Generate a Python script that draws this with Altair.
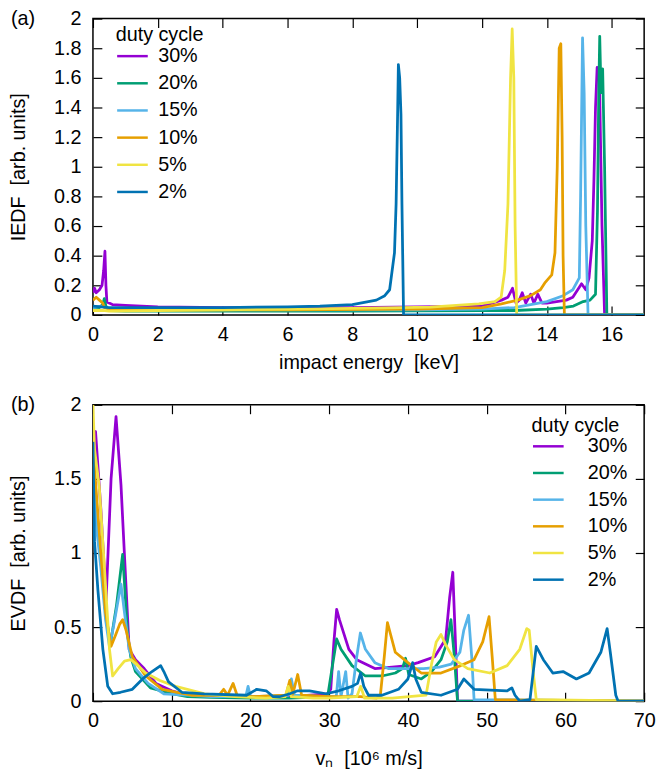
import altair as alt
import pandas as pd

# ---------------- data ----------------
LABELS = ["30%", "20%", "15%", "10%", "5%", "2%"]
COLORS = ["#9400d3", "#009e73", "#56b4e9", "#e69f00", "#f0e442", "#0072b2"]

# panel (a): IEDF vs impact energy [keV]
E30 = [0.0, 0.05, 0.1, 0.2, 0.28, 0.33, 0.37, 0.40, 0.43, 0.6, 1.0, 2.0, 4.0, 6.0, 8.0, 10.0, 12.0, 12.3, 12.6, 12.8, 12.94, 13.05, 13.15, 13.24, 13.35, 13.5, 13.6, 13.72, 13.85, 14.0, 14.3, 14.6, 14.8, 15.07, 15.2, 15.3, 15.4, 15.45, 15.5, 15.55, 15.62, 15.7, 15.78, 17.0]
I30 = [0.15, 0.18, 0.15, 0.17, 0.2, 0.3, 0.43, 0.2, 0.087, 0.07, 0.065, 0.055, 0.05, 0.05, 0.05, 0.055, 0.06, 0.08, 0.1, 0.12, 0.18, 0.08, 0.1, 0.15, 0.08, 0.14, 0.08, 0.14, 0.08, 0.08, 0.09, 0.1, 0.12, 0.21, 0.17, 0.25, 0.5, 0.9, 1.4, 1.67, 1.6, 0.6, 0.0, 0.0]
E20 = [0.0, 0.2, 0.3, 0.35, 0.4, 0.5, 1.0, 4.0, 8.0, 12.0, 13.0, 14.0, 14.5, 14.82, 15.12, 15.33, 15.5, 15.56, 15.6, 15.63, 15.67, 15.72, 15.78, 15.85, 17.0]
I20 = [0.05, 0.05, 0.07, 0.11, 0.06, 0.03, 0.025, 0.025, 0.025, 0.03, 0.03, 0.04, 0.05, 0.06, 0.09, 0.1, 0.14, 0.7, 1.5, 1.88, 1.5, 1.66, 1.0, 0.0, 0.0]
E15 = [0.0, 0.3, 0.5, 2.0, 6.0, 10.0, 12.0, 13.0, 13.5, 14.0, 14.5, 14.8, 15.0, 15.04, 15.1, 15.15, 15.2, 15.27, 17.0]
I15 = [0.05, 0.06, 0.04, 0.035, 0.035, 0.035, 0.04, 0.05, 0.07, 0.09, 0.13, 0.17, 0.25, 0.8, 1.87, 1.5, 0.6, 0.0, 0.0]
E10 = [0.0, 0.1, 0.2, 0.3, 0.35, 0.5, 2.0, 6.0, 10.0, 12.0, 12.6, 13.1, 13.5, 13.8, 13.95, 14.15, 14.25, 14.32, 14.38, 14.43, 14.47, 14.5, 14.54, 17.0]
I10 = [0.1, 0.12, 0.1, 0.08, 0.05, 0.04, 0.035, 0.035, 0.04, 0.05, 0.075, 0.1, 0.13, 0.17, 0.22, 0.27, 0.42, 1.0, 1.8, 1.83, 1.2, 0.4, 0.0, 0.0]
E5 = [0.0, 0.3, 0.5, 2.0, 4.0, 6.0, 8.0, 9.5, 10.4, 11.9, 12.4, 12.59, 12.7, 12.8, 12.88, 12.93, 12.98, 13.02, 13.07, 17.0]
I5 = [0.03, 0.03, 0.025, 0.03, 0.035, 0.04, 0.045, 0.05, 0.053, 0.075, 0.09, 0.12, 0.3, 0.75, 1.6, 1.93, 1.6, 0.6, 0.0, 0.0]
E2 = [0.0, 0.5, 2.0, 4.0, 6.0, 7.0, 8.0, 8.74, 9.0, 9.15, 9.3, 9.35, 9.4, 9.42, 9.46, 9.5, 9.53, 9.58, 17.0]
I2 = [0.06, 0.05, 0.05, 0.05, 0.055, 0.06, 0.07, 0.1, 0.13, 0.17, 0.42, 0.75, 1.4, 1.69, 1.6, 1.35, 0.75, 0.0, 0.0]

# panel (b): EVDF vs v_n [10^6 m/s]
V30 = [0.0, 0.33, 1.0, 1.67, 2.3, 2.93, 3.56, 3.97, 4.6, 5.4, 6.5, 8.0, 10.0, 12.0, 15.0, 20.0, 25.0, 29.8, 30.2, 30.6, 30.95, 31.3, 32.5, 33.5, 35.8, 38.0, 40.0, 41.3, 43.4, 44.8, 45.3, 45.7, 46.0, 46.3, 70.0]
F30 = [1.8, 1.82, 1.3, 0.68, 1.5, 1.92, 1.46, 1.02, 0.35, 0.28, 0.22, 0.12, 0.07, 0.04, 0.03, 0.03, 0.03, 0.05, 0.08, 0.4, 0.62, 0.55, 0.35, 0.28, 0.22, 0.23, 0.24, 0.26, 0.3, 0.42, 0.7, 0.87, 0.45, 0.0, 0.0]
V20 = [0.0, 0.5, 1.0, 1.6, 2.2, 3.0, 3.77, 4.0, 4.4, 4.8, 5.4, 7.3, 10.0, 12.0, 15.0, 20.0, 25.0, 29.8, 30.3, 30.95, 31.5, 32.9, 34.6, 36.7, 38.4, 39.3, 39.7, 40.1, 41.7, 43.0, 44.2, 45.0, 45.46, 45.9, 46.3, 70.0]
F20 = [1.6, 1.2, 0.95, 0.6, 0.38, 0.65, 0.99, 0.8, 0.45, 0.3, 0.2, 0.09, 0.05, 0.03, 0.025, 0.02, 0.02, 0.03, 0.2, 0.42, 0.35, 0.24, 0.17, 0.17, 0.19, 0.22, 0.29, 0.18, 0.15, 0.2, 0.28, 0.4, 0.55, 0.3, 0.0, 0.0]
V15 = [0.0, 0.5, 1.0, 1.6, 2.09, 2.6, 3.1, 3.56, 4.0, 4.6, 5.4, 7.0, 9.0, 12.0, 15.0, 19.4, 19.7, 20.0, 24.8, 25.2, 25.6, 29.5, 30.9, 31.2, 31.5, 32.1, 32.4, 32.9, 33.5, 33.96, 34.6, 35.8, 37.5, 39.2, 42.0, 44.0, 45.5, 46.6, 47.1, 47.7, 48.1, 48.4, 70.0]
F15 = [1.6, 1.15, 0.9, 0.55, 0.37, 0.5, 0.65, 0.79, 0.6, 0.35, 0.22, 0.12, 0.05, 0.04, 0.03, 0.03, 0.1, 0.03, 0.04, 0.15, 0.04, 0.03, 0.03, 0.2, 0.03, 0.2, 0.02, 0.05, 0.3, 0.46, 0.35, 0.26, 0.22, 0.22, 0.22, 0.23, 0.25, 0.33, 0.48, 0.58, 0.3, 0.01, 0.0]
V10 = [0.0, 0.3, 1.0, 1.6, 2.3, 2.9, 3.4, 3.77, 4.2, 5.0, 6.7, 8.8, 12.5, 16.0, 16.6, 17.1, 17.8, 18.3, 20.0, 24.5, 25.0, 25.4, 26.0, 26.5, 30.0, 34.0, 36.0, 36.5, 37.0, 37.4, 37.8, 38.4, 40.0, 41.7, 44.2, 46.7, 48.4, 49.5, 50.3, 50.7, 51.1, 70.0]
F10 = [1.75, 1.5, 1.0, 0.6, 0.37, 0.45, 0.52, 0.55, 0.48, 0.3, 0.17, 0.08, 0.04, 0.04, 0.08, 0.04, 0.12, 0.04, 0.03, 0.04, 0.14, 0.05, 0.18, 0.04, 0.03, 0.03, 0.02, 0.04, 0.3, 0.53, 0.45, 0.33, 0.26, 0.19, 0.19, 0.24, 0.28, 0.4, 0.57, 0.3, 0.01, 0.0]
V5 = [0.0, 0.2, 0.8, 1.46, 2.1, 2.5, 3.2, 4.0, 4.8, 5.5, 6.7, 8.5, 10.5, 14.2, 18.0, 22.0, 24.4, 24.8, 25.2, 28.0, 30.0, 33.5, 34.0, 34.5, 38.0, 42.3, 43.0, 43.6, 44.2, 44.8, 45.9, 47.6, 50.4, 52.6, 54.2, 55.1, 55.4, 55.9, 56.3, 70.0]
F5 = [2.0, 1.7, 1.45, 0.9, 0.35, 0.17, 0.22, 0.27, 0.28, 0.25, 0.19, 0.14, 0.1, 0.05, 0.03, 0.02, 0.03, 0.1, 0.03, 0.02, 0.02, 0.03, 0.1, 0.02, 0.02, 0.04, 0.25, 0.4, 0.45, 0.38, 0.28, 0.22, 0.19, 0.24, 0.35, 0.49, 0.48, 0.2, 0.01, 0.0]
V2 = [0.0, 0.2, 0.63, 1.26, 1.88, 2.5, 3.5, 5.0, 6.3, 7.5, 8.6, 9.0, 9.6, 11.3, 14.1, 19.5, 20.8, 22.0, 22.9, 23.7, 25.0, 26.0, 27.5, 29.6, 31.2, 32.9, 33.6, 34.0, 34.4, 35.0, 36.7, 38.8, 40.0, 40.6, 41.0, 41.7, 44.2, 46.3, 47.1, 48.4, 52.6, 53.2, 53.6, 54.2, 55.5, 56.3, 57.2, 58.4, 59.7, 61.4, 63.0, 64.5, 65.3, 65.7, 66.4, 66.7, 70.0]
F2 = [1.75, 1.08, 0.75, 0.35, 0.1, 0.05, 0.06, 0.08, 0.15, 0.2, 0.24, 0.2, 0.13, 0.06, 0.05, 0.04, 0.08, 0.07, 0.03, 0.03, 0.05, 0.07, 0.07, 0.05, 0.07, 0.1, 0.12, 0.19, 0.1, 0.04, 0.04, 0.08, 0.15, 0.26, 0.15, 0.06, 0.04, 0.08, 0.15, 0.08, 0.07, 0.09, 0.04, 0.0, 0.01, 0.37, 0.28, 0.19, 0.2, 0.15, 0.19, 0.33, 0.49, 0.33, 0.04, 0.0, 0.0]

E_TICKS = [0, 2, 4, 6, 8, 10, 12, 14, 16]
IEDF_TICKS = [0, 0.2, 0.4, 0.6, 0.8, 1, 1.2, 1.4, 1.6, 1.8, 2]
V_TICKS = [0, 10, 20, 30, 40, 50, 60, 70]
EVDF_TICKS = [0, 0.5, 1, 1.5, 2]

FONT = "Liberation Sans"
FS = 20
TICK = 9


def build(series):
    rows = []
    for lab, xs, ys in series:
        assert len(xs) == len(ys), lab
        for i, (a, b) in enumerate(zip(xs, ys)):
            rows.append({"duty": lab, "x": a, "y": b, "i": i})
    return pd.DataFrame(rows)


df_a = build(zip(LABELS, [E30, E20, E15, E10, E5, E2], [I30, I20, I15, I10, I5, I2]))
df_b = build(zip(LABELS, [V30, V20, V15, V10, V5, V2], [F30, F20, F15, F10, F5, F2]))


def axis(orient, title, values, fmt, labels=True, lpad=10, tpad=10):
    kw = dict(orient=orient, values=values, offset=-TICK, tickSize=TICK, domain=False,
              grid=False, labelFlush=False, labelOverlap=False, format=fmt,
              tickColor="black", tickWidth=1.2)
    if labels:
        kw.update(title=title, labelPadding=lpad, titlePadding=tpad, labelFontSize=FS,
                  titleFontSize=FS, titleFontWeight="normal", labelFont=FONT,
                  titleFont=FONT, labelColor="black", titleColor="black")
    else:
        kw.update(title=None, labels=False)
    return alt.Axis(**kw)


def panel(df, xdom, ydom, xticks, yticks, xtitle, ytitle, tag, legend_x, legend_y,
          label_off, title_pad, row_pad, xtpad):
    xs = alt.Scale(domain=xdom, nice=False, zero=False)
    ys = alt.Scale(domain=ydom, nice=False, zero=False)
    legend = alt.Legend(title="duty cycle", orient="none", legendX=legend_x, legendY=legend_y,
                        titleFontSize=FS, titleFontWeight="normal", titleFont=FONT,
                        labelFontSize=FS, labelFont=FONT, symbolType="stroke",
                        symbolSize=961, symbolStrokeWidth=2.5, labelOffset=label_off,
                        rowPadding=row_pad, titlePadding=title_pad, padding=0,
                        titleColor="black", labelColor="black")
    lines = alt.Chart(df).mark_line(strokeWidth=2.8, strokeJoin="round", clip=True).encode(
        x=alt.X("x:Q", scale=xs, axis=axis("bottom", xtitle, xticks, "d", tpad=xtpad)),
        y=alt.Y("y:Q", scale=ys, axis=axis("left", ytitle, yticks, "~g", lpad=12, tpad=25)),
        color=alt.Color("duty:N", scale=alt.Scale(domain=LABELS, range=COLORS), legend=legend),
        order="i:Q",
    )
    mirror = alt.Chart(df).mark_line(opacity=0).encode(
        x=alt.X("x:Q", scale=xs, axis=axis("top", None, xticks, "d", labels=False)),
        y=alt.Y("y:Q", scale=ys, axis=axis("right", None, yticks, "~g", labels=False)),
    )
    label = alt.Chart(pd.DataFrame({"t": [tag]})).mark_text(
        align="left", baseline="top", fontSize=FS, font=FONT, color="black"
    ).encode(x=alt.value(-83), y=alt.value(-10), text="t:N")
    return alt.layer(lines, mirror, label).resolve_axis(x="independent", y="independent").properties(
        width=558, height=300)


top = panel(df_a, [0, 17], [0, 2], E_TICKS, IEDF_TICKS, "impact energy\u00a0\u00a0[keV]",
            "IEDF\u00a0\u00a0[arb. units]", "(a)", 23, 7, 9, -6, 0.5, 8)
bottom = panel(df_b, [0, 70], [0, 2], V_TICKS, EVDF_TICKS, "v\u2099\u00a0\u00a0[10\u2076 m/s]",
               "EVDF\u00a0\u00a0[arb. units]", "(b)", 444, 11, 23, -6, 0, 18)

chart = alt.vconcat(top, bottom, spacing=21).resolve_legend(color="independent").properties(
    padding={"top": -5, "left": 0, "right": 0, "bottom": 0}).configure(
    font=FONT).configure_view(stroke="black", strokeWidth=1.5)

chart.save("out.html", embed_options={"renderer": "svg", "actions": False})
